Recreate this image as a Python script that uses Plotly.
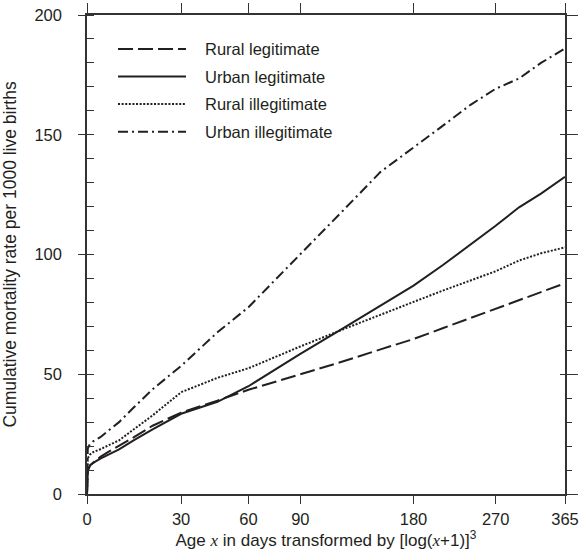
import numpy as np
import plotly.graph_objects as go

# ---- data ----
days = [0, 1, 2, 3, 5, 7, 10, 14, 20, 30, 45, 60, 90, 120, 150, 180, 210, 240, 270, 300, 330, 365]
rural_legitimate = [0, 10, 12, 13, 15.5, 17.5, 20, 23.5, 28.5, 34, 39, 43.5, 50, 55.4, 60.4, 64.7, 69.3, 73.4, 77.2, 80.9, 84.3, 88]
urban_legitimate = [0, 9.5, 12, 13, 14.8, 16.4, 18.6, 22.3, 27, 33.5, 38.5, 45, 58.5, 69.3, 78.5, 87, 95.7, 104, 112, 119.7, 125.4, 132.4]
rural_illegitimate = [0, 15, 16.5, 17.5, 18.7, 20.2, 22.4, 26.8, 32.8, 42.5, 48.5, 52.5, 61.6, 68.8, 75, 80.2, 85, 89, 93, 97.5, 100.5, 103]
urban_illegitimate = [0, 19, 21, 22, 23.7, 26.3, 30, 35.9, 43.7, 53.5, 67.5, 78, 100, 118.5, 134.5, 144.5, 153.9, 162.5, 169.2, 173.5, 180, 186]

series_names = ["Rural legitimate", "Urban legitimate", "Rural illegitimate", "Urban illegitimate"]
series_values = [rural_legitimate, urban_legitimate, rural_illegitimate, urban_illegitimate]
x_tick_days = [0, 30, 60, 90, 180, 270, 365]

# ---- styles ----
INK = "#231f20"
AX = "#333333"
FONT = "Liberation Sans"
dashes = ["15px,5px", "solid", "2px,1.6px", "10px,4px,2px,4px"]


def tr(d):
    return np.log10(np.asarray(d, dtype=float) + 1.0) ** 3


xmax = float(tr([365])[0])

fig = go.Figure()
for name, vals, dash in zip(series_names, series_values, dashes):
    fig.add_trace(go.Scatter(
        x=tr(days), y=vals, mode="lines", name=name, showlegend=False,
        line=dict(color=INK, width=2, dash=dash), hoverinfo="skip"))

# empty helper traces so the overlay axes (extra tick sets) are drawn
for xa, ya in [("x2", "y"), ("x", "y2"), ("x", "y3"), ("x", "y4")]:
    fig.add_trace(go.Scatter(x=[None], y=[None], xaxis=xa, yaxis=ya, mode="lines",
                             showlegend=False, hoverinfo="skip"))

# ---- manual legend (long line samples as in the reference) ----
lx0, lx1, ltx = 0.0649, 0.2071, 0.2427
ly0, lstep = 0.929, 0.0575
for i, (name, dash) in enumerate(zip(series_names, dashes)):
    yy = ly0 - i * lstep
    fig.add_shape(type="line", xref="paper", yref="paper", x0=lx0, x1=lx1, y0=yy, y1=yy,
                  line=dict(color=INK, width=2, dash=dash))
    fig.add_annotation(xref="paper", yref="paper", x=ltx, y=yy, text=name, showarrow=False,
                       xanchor="left", yanchor="middle", font=dict(family=FONT, size=16.5, color=INK))

ital = "<span style='font-family:Liberation Serif;font-style:italic'>x</span>"
xtitle = f"Age {ital} in days transformed by [log({ital}+1)]<sup>3</sup>"

common = dict(showgrid=False, zeroline=False, linecolor=AX, tickcolor=AX, tickwidth=1.3, linewidth=1.5)
ylin = dict(range=[0, 200], tickmode="linear", tick0=0, dtick=50)

fig.update_layout(
    width=580, height=558,
    margin=dict(l=87, r=15, t=15, b=64, autoexpand=False),
    paper_bgcolor="white", plot_bgcolor="white",
    font=dict(family=FONT, size=16.5, color=INK),
    xaxis=dict(range=[0, xmax], tickmode="array", tickvals=tr(x_tick_days),
               ticktext=[str(d) for d in x_tick_days],
               ticks="outside", ticklen=8, showline=True, mirror=True, ticklabelstandoff=1,
               title=dict(text=xtitle, font=dict(size=17), standoff=8), **common),
    xaxis2=dict(range=[0, xmax], overlaying="x", side="top", anchor="y", tickmode="array",
                tickvals=tr(x_tick_days), ticks="outside", ticklen=11, showticklabels=False,
                showline=False, **common),
    yaxis=dict(**ylin, ticks="outside", ticklen=7, showline=True, mirror=True,
               minor=dict(dtick=10, ticks="inside", ticklen=7, tickcolor=AX, tickwidth=1.3),
               ticklabelstandoff=13,
               title=dict(text="Cumulative mortality rate per 1000 live births", font=dict(size=17.5), standoff=16),
               **common),
    yaxis2=dict(**ylin, overlaying="y", side="left", anchor="x",
                ticks="inside", ticklen=7, showticklabels=False, showline=False, **common),
    yaxis3=dict(**ylin, overlaying="y", side="right", anchor="x",
                ticks="outside", ticklen=12, showticklabels=False, showline=False,
                minor=dict(dtick=10, ticks="outside", ticklen=6, tickcolor=AX, tickwidth=1.3), **common),
    yaxis4=dict(**ylin, overlaying="y", side="right", anchor="x",
                ticks="inside", ticklen=5, showticklabels=False, showline=False, **common),
)

fig.write_html("out.html")
